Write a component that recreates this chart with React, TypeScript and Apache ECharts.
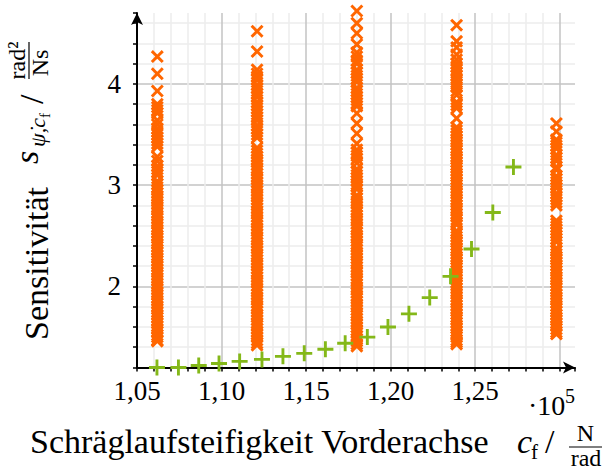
import React, { useEffect, useRef } from "react";
import * as echarts from "echarts";

// ---------- data ----------
const xTickValues = [105000, 110000, 115000, 120000, 125000];
const xTickLabels = ["1,05", "1,10", "1,15", "1,20", "1,25"];
const yTickValues = [2, 3, 4];
const yTickLabels = ["2", "3", "4"];

const columnX = [106200, 112100, 118000, 123900, 129800];

const col1 = [4.27, 4.10, 3.93, 3.80, 3.77, 3.74, 3.71, 3.64, 3.60, 3.56, 3.53, 3.50, 3.47, 3.44, 3.41, 3.38, 3.28, 3.24, 3.19, 3.16, 3.13, 3.10, 3.04, 3.01, 2.98, 2.95, 2.92, 2.89, 2.87, 2.84, 2.81, 2.78, 2.76, 2.73, 2.70, 2.67, 2.64, 2.62, 2.59, 2.56, 2.53, 2.50, 2.48, 2.45, 2.42, 2.39, 2.36, 2.34, 2.31, 2.28, 2.25, 2.22, 2.20, 2.17, 2.14, 2.11, 2.08, 2.06, 2.03, 2.00, 1.97, 1.94, 1.92, 1.89, 1.86, 1.83, 1.80, 1.78, 1.75, 1.72, 1.69, 1.66, 1.64, 1.61, 1.58, 1.55, 1.52, 1.50, 1.47, 1.46];
const col2 = [4.52, 4.32, 4.14, 4.10, 4.07, 4.04, 3.99, 3.96, 3.93, 3.90, 3.87, 3.82, 3.79, 3.76, 3.73, 3.70, 3.67, 3.64, 3.59, 3.56, 3.53, 3.50, 3.47, 3.37, 3.34, 3.31, 3.28, 3.25, 3.23, 3.20, 3.17, 3.14, 3.11, 3.08, 3.06, 3.03, 3.00, 2.97, 2.94, 2.91, 2.89, 2.86, 2.83, 2.80, 2.77, 2.74, 2.72, 2.69, 2.66, 2.63, 2.60, 2.57, 2.55, 2.52, 2.49, 2.46, 2.43, 2.40, 2.38, 2.35, 2.32, 2.29, 2.26, 2.23, 2.21, 2.18, 2.15, 2.12, 2.09, 2.06, 2.04, 2.01, 1.98, 1.95, 1.92, 1.89, 1.87, 1.84, 1.81, 1.78, 1.75, 1.72, 1.70, 1.67, 1.64, 1.61, 1.58, 1.55, 1.53, 1.50, 1.47, 1.44, 1.42];
const col3 = [4.72, 4.60, 4.50, 4.39, 4.31, 4.27, 4.23, 4.20, 4.14, 4.11, 4.08, 4.05, 4.02, 3.96, 3.93, 3.90, 3.87, 3.84, 3.81, 3.78, 3.71, 3.61, 3.51, 3.41, 3.35, 3.32, 3.29, 3.26, 3.22, 3.16, 3.13, 3.10, 3.07, 3.04, 3.01, 2.99, 2.96, 2.90, 2.87, 2.84, 2.82, 2.79, 2.76, 2.73, 2.70, 2.67, 2.65, 2.62, 2.59, 2.56, 2.53, 2.50, 2.48, 2.45, 2.42, 2.39, 2.36, 2.33, 2.31, 2.28, 2.25, 2.22, 2.19, 2.16, 2.14, 2.11, 2.08, 2.05, 2.02, 1.99, 1.97, 1.94, 1.91, 1.88, 1.85, 1.82, 1.80, 1.77, 1.74, 1.71, 1.68, 1.65, 1.63, 1.60, 1.57, 1.54, 1.51, 1.48, 1.46, 1.43, 1.41];
const col4 = [4.58, 4.42, 4.36, 4.29, 4.24, 4.20, 4.17, 4.14, 4.11, 4.08, 4.04, 4.00, 3.97, 3.93, 3.89, 3.82, 3.79, 3.76, 3.66, 3.57, 3.54, 3.51, 3.48, 3.45, 3.43, 3.40, 3.37, 3.34, 3.31, 3.28, 3.26, 3.23, 3.20, 3.17, 3.14, 3.11, 3.09, 3.06, 3.03, 3.00, 2.97, 2.94, 2.92, 2.89, 2.86, 2.83, 2.80, 2.77, 2.75, 2.72, 2.69, 2.66, 2.63, 2.61, 2.55, 2.52, 2.49, 2.46, 2.44, 2.41, 2.38, 2.35, 2.32, 2.29, 2.27, 2.24, 2.21, 2.18, 2.15, 2.12, 2.10, 2.07, 2.04, 2.01, 1.98, 1.95, 1.93, 1.90, 1.87, 1.84, 1.81, 1.78, 1.76, 1.73, 1.70, 1.67, 1.64, 1.61, 1.59, 1.56, 1.53, 1.50, 1.47, 1.45, 1.43];
const col5 = [3.61, 3.53, 3.45, 3.42, 3.39, 3.36, 3.30, 3.27, 3.24, 3.18, 3.15, 3.09, 3.06, 3.03, 3.00, 2.97, 2.92, 2.89, 2.86, 2.83, 2.80, 2.65, 2.62, 2.59, 2.56, 2.53, 2.50, 2.47, 2.44, 2.38, 2.35, 2.32, 2.29, 2.27, 2.24, 2.21, 2.18, 2.15, 2.12, 2.09, 2.07, 2.04, 2.01, 1.98, 1.95, 1.92, 1.89, 1.87, 1.84, 1.81, 1.78, 1.75, 1.72, 1.69, 1.67, 1.64, 1.61, 1.58, 1.55, 1.53];
const columns = [col1, col2, col3, col4, col5];

const greenX = [106180, 107450, 108650, 109850, 111070, 112390, 113630, 114890, 116140, 117310, 118620, 119840, 121080, 122310, 123540, 124780, 126040, 127260];
const greenY = [1.20, 1.20, 1.22, 1.24, 1.26, 1.28, 1.31, 1.34, 1.38, 1.44, 1.50, 1.60, 1.73, 1.89, 2.10, 2.37, 2.73, 3.18];

// ---------- styles ----------
const FONT = "Liberation Serif";
const ORANGE = "#ff6600";
const GREEN = "#84b819";
const MINOR = "#ececec";
const MAJOR = "#c3c3c3";
const X_SYMBOL = "path://M0,16L16,0L50,34L84,0L100,16L66,50L100,84L84,100L50,66L16,100L0,84L34,50Z";
const PLUS_SYMBOL = "path://M41,0H59V41H100V59H59V100H41V59H0V41H41Z";

function txt(text: string, x: number, y: number, size: number, opts: any = {}) {
  return {
    type: "text",
    x,
    y,
    rotation: opts.rotation || 0,
    silent: true,
    style: {
      text,
      fontSize: size,
      fontFamily: FONT,
      fontStyle: opts.italic ? "italic" : "normal",
      fill: "#000",
      textAlign: opts.align || "left",
      textVerticalAlign: "middle",
    },
  };
}

const R = Math.PI / 2;

export default function App() {
  const ref = useRef<HTMLDivElement>(null);
  useEffect(() => {
    const chart = echarts.init(ref.current!, null, { renderer: "svg" });
    const option: any = {
      animation: false,
      grid: { left: 137, right: 29, top: 13, bottom: 98.5, outerBoundsMode: "none" },
      xAxis: {
        type: "value",
        min: 105000,
        max: 130900,
        interval: 1000,
        axisLine: { show: true, lineStyle: { color: "#000", width: 2 }, symbol: ["none", "arrow"], symbolSize: [9, 12] },
        axisTick: { show: true, length: 4, lineStyle: { color: "#000", width: 1.5 } },
        axisLabel: {
          margin: 9.5,
          fontFamily: FONT,
          fontSize: 27,
          color: "#000",
          formatter: (v: number) => {
            const i = xTickValues.findIndex((t) => Math.abs(t - v) < 1e-6);
            return i >= 0 ? xTickLabels[i] : "";
          },
        },
        splitLine: { show: true, showMaxLine: false, lineStyle: { color: [MAJOR, MINOR, MINOR, MINOR, MINOR], width: 1.5 } },
      },
      yAxis: {
        type: "value",
        min: 1.2,
        max: 4.7,
        interval: 0.2,
        axisLine: { show: true, lineStyle: { color: "#000", width: 2 }, symbol: ["none", "arrow"], symbolSize: [9, 12] },
        axisTick: { show: true, length: 4, lineStyle: { color: "#000", width: 1.5 } },
        axisLabel: {
          margin: 16,
          fontFamily: FONT,
          fontSize: 27,
          color: "#000",
          padding: [6, 0, 0, 0],
          formatter: (v: number) => {
            const i = yTickValues.findIndex((t) => Math.abs(t - v) < 1e-6);
            return i >= 0 ? yTickLabels[i] : "";
          },
        },
        splitLine: { show: true, showMaxLine: false, lineStyle: { color: [MINOR, MINOR, MINOR, MINOR, MAJOR], width: 1.5 } },
      },
      series: [
        ...columns.map((col, ci) => ({
          type: "scatter",
          data: col.map((v) => [columnX[ci], v]),
          symbol: X_SYMBOL,
          symbolSize: 13,
          clip: false,
          silent: true,
          itemStyle: { color: ORANGE, opacity: 1 },
        })),
        {
          type: "scatter",
          data: greenX.map((x, i) => [x, greenY[i]]),
          symbol: PLUS_SYMBOL,
          symbolSize: 16,
          clip: false,
          silent: true,
          itemStyle: { color: GREEN, opacity: 1 },
        },
      ],
      graphic: [
        // x axis title
        txt("Schräglaufsteifigkeit Vorderachse", 30, 441.5, 34),
        txt("c", 517, 441.5, 34, { italic: true }),
        txt("f", 531, 452, 21),
        txt("/", 545, 441.5, 34),
        txt("N", 585.5, 433, 24, { align: "center" }),
        { type: "line", silent: true, shape: { x1: 569, y1: 447, x2: 602, y2: 447 }, style: { stroke: "#000", lineWidth: 1.2 } },
        txt("rad", 586, 457.5, 24, { align: "center" }),
        // exponent
        txt("·10", 528, 405.5, 28),
        txt("5", 565, 396, 20),
        // y axis title (rotated)
        txt("Sensitivität", 36.5, 340, 34, { rotation: R }),
        txt("s", 26, 164, 34, { italic: true, rotation: R }),
        txt("ψ̇,c", 37.6, 147, 22, { italic: true, rotation: R }),
        txt("f", 45, 118, 15, { rotation: R }),
        txt("/", 31.5, 104, 34, { rotation: R }),
        txt("rad²", 17, 60.5, 24, { align: "center", rotation: R }),
        { type: "line", silent: true, shape: { x1: 29, y1: 42, x2: 29, y2: 79 }, style: { stroke: "#000", lineWidth: 1.2 } },
        txt("Ns", 40, 63, 24, { align: "center", rotation: R }),
      ],
    };
    chart.setOption(option);
    return () => chart.dispose();
  }, []);
  return <div ref={ref} style={{ position: "absolute", left: 0, top: 0, width: 604, height: 466 }} />;
}
